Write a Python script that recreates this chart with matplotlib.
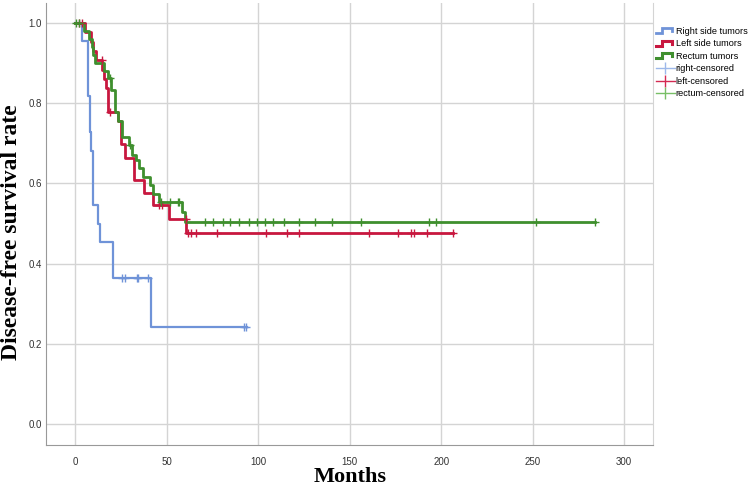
import numpy as np
import matplotlib
matplotlib.use("Agg")
import matplotlib.pyplot as plt
from matplotlib.lines import Line2D
from matplotlib.legend_handler import HandlerBase

# Kaplan-Meier step data (months, survival)
right_t = [0, 3.8, 7.0, 8.0, 8.7, 9.8, 12.6, 13.7, 20.8, 41.5, 94.0]
right_s = [1.0, 0.955, 0.818, 0.727, 0.682, 0.545, 0.500, 0.455, 0.364, 0.242, 0.242]
right_cens = [25.7, 27.1, 34.0, 34.5, 40.0, 92.0, 93.5]

left_t = [0, 5.5, 8.6, 9.5, 11.5, 14.9, 15.8, 16.8, 17.7, 23.5, 25.3, 27.3,
          32.2, 37.7, 42.3, 51.4, 60.6, 206.6]
left_s = [1.0, 0.977, 0.953, 0.930, 0.907, 0.884, 0.860, 0.837, 0.779, 0.756,
          0.698, 0.663, 0.608, 0.576, 0.546, 0.511, 0.476, 0.476]
left_cens = [2.0, 3.5, 14.5, 19.0, 45.9, 47.4, 60.5, 61.9, 63.2, 66.3, 77.4,
             104.5, 115.5, 122.4, 160.3, 176.5, 183.4, 185.4, 192.5, 206.6]

rect_t = [0, 5.0, 7.5, 9.0, 10.0, 10.9, 16.0, 17.7, 19.5, 21.9, 23.5, 25.5,
          29.5, 31.3, 33.2, 35.0, 36.8, 41.0, 42.3, 45.9, 58.6, 60.1, 284.0]
rect_s = [1.0, 0.980, 0.960, 0.940, 0.920, 0.900, 0.880, 0.862, 0.833, 0.779,
          0.755, 0.716, 0.696, 0.671, 0.658, 0.638, 0.617, 0.595, 0.573, 0.553,
          0.529, 0.504, 0.504]
rect_cens = [0.5, 2.0, 19.0, 30.0, 47.0, 52.0, 56.0, 57.0, 71.0, 75.4, 80.9,
             84.7, 89.6, 95.0, 99.5, 103.8, 108.2, 114.2, 122.4, 131.0, 140.4,
             156.3, 193.4, 197.3, 252.0, 284.0]

labels = ["Right side tumors", "Left side tumors", "Rectum tumors",
          "right-censored", "left-censored", "rectum-censored"]

c_right, c_left, c_rect = "#6f93d8", "#c8173f", "#3f8f2e"
cc_right, cc_left, cc_rect = "#9db8ea", "#d42a52", "#78bf66"


def step_at(t, times, surv):
    idx = np.searchsorted(times, t, side="right") - 1
    return np.asarray(surv)[idx]


class StepHandler(HandlerBase):
    # little step-shaped icon like the SPSS legend
    def create_artists(self, legend, orig, xd, yd, w, h, fontsize, trans):
        x = [xd, xd + 0.3 * w, xd + 0.3 * w, xd + 0.88 * w, xd + 0.88 * w]
        y = [yd + 0.1 * h, yd + 0.1 * h, yd + 0.85 * h, yd + 0.85 * h, yd + 0.45 * h]
        ln = Line2D(x, y, color=orig.get_color(), lw=orig.get_linewidth(),
                    solid_joinstyle="miter")
        ln.set_transform(trans)
        return [ln]


fig = plt.figure(figsize=(7.52, 4.90), dpi=100)
ax = fig.add_axes([0.061, 0.092, 0.808, 0.902])

series = [(right_t, right_s, right_cens, c_right, 1.6),
          (left_t, left_s, left_cens, c_left, 2.0),
          (rect_t, rect_s, rect_cens, c_rect, 2.0)]

for t, s, cens, col, lw in series:
    ax.step(t, s, where="post", color=col, lw=lw, zorder=3)
    ax.plot(cens, step_at(cens, t, s), "+", color=col, ms=6, mew=1.0, zorder=4)

ax.set_xlim(-16, 316)
ax.set_ylim(-0.052, 1.05)
ax.set_xticks([0, 50, 100, 150, 200, 250, 300])
ax.set_yticks([0.0, 0.2, 0.4, 0.6, 0.8, 1.0])
ax.set_yticklabels(["0.0", "0.2", "0.4", "0.6", "0.8", "1.0"])
ax.grid(True, color="#d4d4d4", lw=1.0)
ax.set_axisbelow(True)
ax.tick_params(length=0, labelsize=7, labelcolor="#333333")
ax.tick_params(axis="x", pad=9)
ax.tick_params(axis="y", pad=3)
for lab in ax.get_xticklabels() + ax.get_yticklabels():
    lab.set_family("Liberation Sans")
ax.spines["top"].set_visible(False)
ax.spines["right"].set_color("#d4d4d4")
ax.spines["left"].set_color("#999999")
ax.spines["bottom"].set_color("#999999")

fig.text(350 / 752, 1 - 477 / 490, "Months", family="Liberation Serif",
         fontweight="bold", fontsize=16, ha="center", va="center")
fig.text(12 / 752, 1 - 232 / 490, "Disease-free survival rate", family="Liberation Serif",
         fontweight="bold", fontsize=17, ha="center", va="center", rotation=90)

handles = [Line2D([], [], color=c_right, lw=2),
           Line2D([], [], color=c_left, lw=2.2),
           Line2D([], [], color=c_rect, lw=2.2),
           Line2D([], [], color=cc_right, lw=1, marker="|", ms=8, mew=1),
           Line2D([], [], color=cc_left, lw=1, marker="|", ms=8, mew=1),
           Line2D([], [], color=cc_rect, lw=1, marker="|", ms=8, mew=1)]
hmap = {h: StepHandler() for h in handles[:3]}
fig.legend(handles, labels, loc="upper left", bbox_to_anchor=(0.863, 0.960),
           frameon=False, handler_map=hmap, handlelength=2.0, handletextpad=0.1,
           labelspacing=0.38, borderpad=0.3,
           prop={"family": "Liberation Sans", "size": 6.6})

fig.savefig("out.png", dpi=100)
